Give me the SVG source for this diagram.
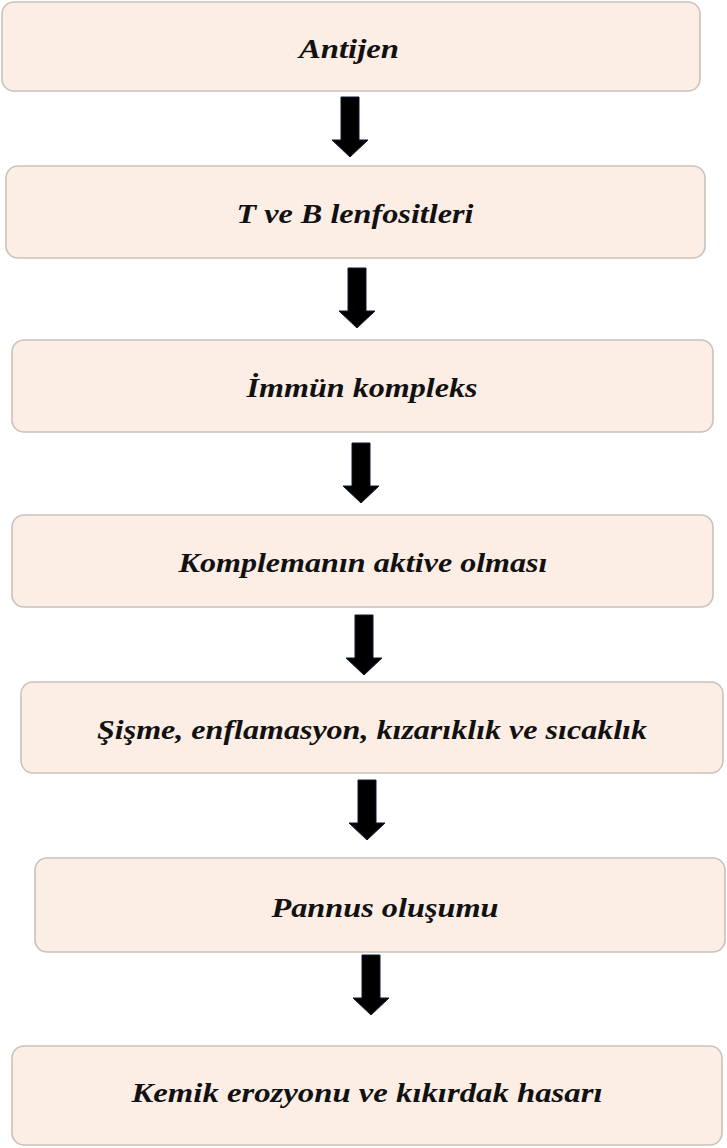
<svg xmlns="http://www.w3.org/2000/svg" width="727" height="1148" viewBox="0 0 727 1148">
<style>
.box{fill:#FCEDE5;stroke:#C9C1BB;stroke-width:1.6}
.lbl{font-family:"Liberation Serif","Times New Roman",serif;font-style:italic;font-weight:bold;font-size:28px;fill:#111;text-anchor:middle}
.arr{fill:#000;stroke:#0d1a33;stroke-width:1}
</style>
<defs>
<polygon id="arrow" points="-9,0 9,0 9,43 18,43 0,60 -18,43 -9,43"/>
</defs>
<rect width="727" height="1148" fill="#fff"/>
<g id="connectors">
<use href="#arrow" class="arr" transform="translate(350,97)"/>
<use href="#arrow" class="arr" transform="translate(357,268)"/>
<use href="#arrow" class="arr" transform="translate(361,443)"/>
<use href="#arrow" class="arr" transform="translate(364,615)"/>
<use href="#arrow" class="arr" transform="translate(367,780)"/>
<use href="#arrow" class="arr" transform="translate(371,955)"/>
</g>
<g id="n1"><rect class="box" x="2" y="2" width="698" height="89" rx="12"/><text class="lbl" x="349" y="58" textLength="100" lengthAdjust="spacingAndGlyphs">Antijen</text></g>
<g id="n2"><rect class="box" x="6" y="166" width="699" height="92" rx="12"/><text class="lbl" x="355" y="223" textLength="237" lengthAdjust="spacingAndGlyphs">T ve B lenfositleri</text></g>
<g id="n3"><rect class="box" x="12" y="340" width="701" height="92" rx="12"/><text class="lbl" x="362" y="397" textLength="231" lengthAdjust="spacingAndGlyphs">İmmün kompleks</text></g>
<g id="n4"><rect class="box" x="12" y="515" width="701" height="92" rx="12"/><text class="lbl" x="363" y="572" textLength="369" lengthAdjust="spacingAndGlyphs">Komplemanın aktive olması</text></g>
<g id="n5"><rect class="box" x="21" y="682" width="702" height="91" rx="12"/><text class="lbl" x="372" y="739" textLength="550" lengthAdjust="spacingAndGlyphs">Şişme, enflamasyon, kızarıklık ve sıcaklık</text></g>
<g id="n6"><rect class="box" x="35" y="858" width="690" height="94" rx="12"/><text class="lbl" x="385" y="917" textLength="227" lengthAdjust="spacingAndGlyphs">Pannus oluşumu</text></g>
<g id="n7"><rect class="box" x="12" y="1046" width="710" height="99" rx="12"/><text class="lbl" x="367" y="1102" textLength="471" lengthAdjust="spacingAndGlyphs">Kemik erozyonu ve kıkırdak hasarı</text></g>
</svg>
